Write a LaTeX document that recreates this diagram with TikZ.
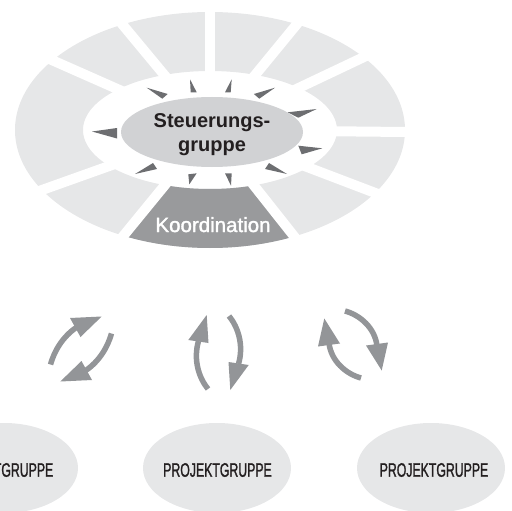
\documentclass[tikz,border=0pt]{standalone}
\usepackage{fontspec}
\setmainfont{Liberation Sans}
\newfontfamily\condfont[FakeStretch=0.63,FakeBold=1.2]{Liberation Sans}
\newfontfamily\medfont[FakeBold=1.6]{Liberation Sans}
\usetikzlibrary{shapes.geometric}

\definecolor{ringgray}{HTML}{E6E7E8}
\definecolor{coregray}{HTML}{D1D2D4}
\definecolor{koordgray}{HTML}{999A9C}
\definecolor{tickgray}{HTML}{6D6E71}
\definecolor{arrowgray}{HTML}{939598}
\definecolor{inkblack}{HTML}{231F20}

\begin{document}
\begin{tikzpicture}[x=1pt,y=-1pt,
  ringshape/.style={even odd rule},
  gapline/.style={white, line width=10pt},
  tick/.style={fill=tickgray},
  swapstroke/.style={draw=arrowgray, line width=5.5pt},
  swaphead/.style={fill=arrowgray},
  groupbox/.style={ellipse, fill=ringgray, minimum width=148pt, minimum height=90pt, inner sep=0pt},
  grouplabel/.style={text=inkblack, font=\condfont\fontsize{19.5}{21}\selectfont, inner sep=0pt}
]
\useasboundingbox (0,0) rectangle (512,511);
\clip (0,0) rectangle (512,511);

% ring of segments around the steering group
\coordinate (c) at (210,130);
\fill[ringgray, ringshape] (c) ellipse [x radius=195pt, y radius=118pt]
                           (c) ellipse [x radius=127pt, y radius=59pt];
\begin{scope}
  \clip (c) -- ++(-270,330) -- ++(531,0) -- cycle;
  \fill[koordgray, ringshape] (c) ellipse [x radius=195pt, y radius=118pt]
                              (c) ellipse [x radius=127pt, y radius=59pt];
\end{scope}
\foreach \dx/\dy in {0/-118, 87/-106, 154/-73, 195/2, 168/64, 87/110,
                     -90/110, -168/60, -156/-69, -88/-106}
  \draw[gapline] (c) -- ++(1.4*\dx, 1.4*\dy);

% steering group in the middle
\node[ellipse, fill=coregray, minimum width=182pt, minimum height=70pt, inner sep=0pt]
  (steuer) at (212,132) {};
\node[align=center, text=inkblack, inner sep=0pt,
      font=\fontsize{20}{24}\selectfont\bfseries] (steuertext) at (212,135)
  {Steuerungs-\\gruppe};

% outward pointing ticks
\fill[tick] (146.7,87.7) -- (167.7,94) -- (162.3,98.7) -- cycle;
\fill[tick] (190,79.3) -- (190.7,92.3) -- (196.7,92.3) -- cycle;
\fill[tick] (231.7,79.3) -- (225,92.3) -- (230.7,92.3) -- cycle;
\fill[tick] (275,87.7) -- (253.9,94) -- (259.3,98.7) -- cycle;
\fill[tick] (316.7,109) -- (287.7,112.3) -- (298.3,117.7) -- cycle;
\fill[tick] (92,131.5) -- (117,128) -- (117,138.5) -- cycle;
\fill[tick] (322.3,148.3) -- (298.3,145.7) -- (301.7,154.3) -- cycle;
\fill[tick] (135,174) -- (153,163) -- (157,169) -- cycle;
\fill[tick] (189.3,184.3) -- (188.3,174.3) -- (196.7,173.3) -- cycle;
\fill[tick] (231,185.7) -- (225,173.3) -- (231.7,173.3) -- cycle;
\fill[tick] (287,174) -- (269,163) -- (265,169) -- cycle;

% coordination segment label
\node[anchor=base, text=white, inner sep=0pt, font=\medfont\fontsize{20.5}{24}\selectfont]
  (koord) at (213,232) {Koordination};

% exchange arrows, each pair is one arrow and its half-turn copy
\foreach \r in {0,180} {
  \begin{scope}[rotate around={\r:(81,349)}]
    \draw[swapstroke] (50.5,364.5) .. controls (54,352) and (62,337) .. (77,327);
    \fill[swaphead] (101.7,316.5) -- (70,318) -- (80.5,337) -- cycle;
  \end{scope}
  \begin{scope}[rotate around={\r:(218.5,352.5)}]
    \draw[swapstroke] (208,389) .. controls (199,378) and (193,360) .. (198.5,341);
    \fill[swaphead] (206.7,315) -- (188.3,340) -- (208.5,343) -- cycle;
  \end{scope}
  \begin{scope}[rotate around={\r:(353,344.5)}]
    \draw[swapstroke] (345,311) .. controls (360,315) and (375,328) .. (377,346);
    \fill[swaphead] (381.7,370.5) -- (366,345.5) -- (388,342.5) -- cycle;
  \end{scope}
}

% project groups
\node[groupbox] (pg1) at (4,468) {};
\node[groupbox] (pg2) at (217,468) {};
\node[groupbox] (pg3) at (431,468) {};
\node[grouplabel] (pg1text) at (-1,470) {PROJEKTGRUPPE};
\node[grouplabel] (pg2text) at (217.5,470) {PROJEKTGRUPPE};
\node[grouplabel] (pg3text) at (434,470) {PROJEKTGRUPPE};
\end{tikzpicture}
\end{document}
